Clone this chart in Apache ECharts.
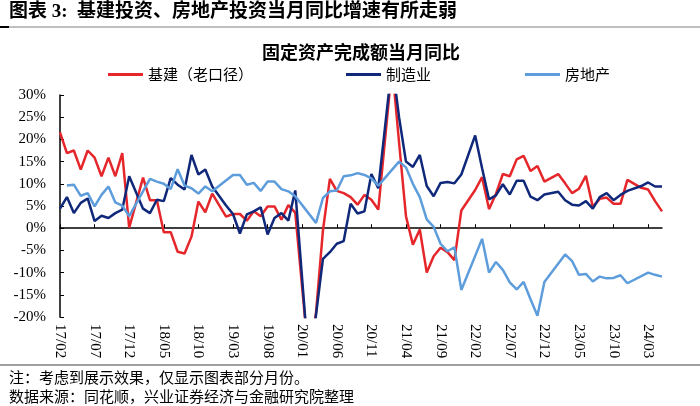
<!DOCTYPE html>
<html>
<head>
<meta charset="utf-8">
<script src="https://cdn.jsdelivr.net/npm/echarts/dist/echarts.min.js"></script>
<style>
  html, body { margin: 0; padding: 0; background: #fff; }
  #main { width: 700px; height: 406px; }
</style>
</head>
<body>
<div id="main"></div>
<script>
// 月份 17/02 - 24/05
var months = [
  '17/02','17/03','17/04','17/05','17/06','17/07','17/08','17/09','17/10','17/11','17/12',
  '18/01','18/02','18/03','18/04','18/05','18/06','18/07','18/08','18/09','18/10','18/11','18/12',
  '19/01','19/02','19/03','19/04','19/05','19/06','19/07','19/08','19/09','19/10','19/11','19/12',
  '20/01','20/02','20/03','20/04','20/05','20/06','20/07','20/08','20/09','20/10','20/11','20/12',
  '21/01','21/02','21/03','21/04','21/05','21/06','21/07','21/08','21/09','21/10','21/11','21/12',
  '22/01','22/02','22/03','22/04','22/05','22/06','22/07','22/08','22/09','22/10','22/11','22/12',
  '23/01','23/02','23/03','23/04','23/05','23/06','23/07','23/08','23/09','23/10','23/11','23/12',
  '24/01','24/02','24/03','24/04','24/05'
];

// 基建（老口径），%
var infra = [
  21.6, 16.9, 17.5, 13.2, 17.5, 15.9, 11.7, 15.9, 11.7, 16.9, 0.1,
  null, 11.4, 6.3, 6.3, -0.9, -0.9, -5.3, -5.7, -1.9, 6.0, 3.6, 7.8,
  null, 2.6, 3.2, 3.2, 1.7, 3.8, 2.7, 4.9, 4.9, 1.9, 5.2, 3.5,
  null, -30.3, -19.0, -0.5, 11.1, 8.4, 7.9, 7.0, 5.3, 7.5, 6.4, 4.2,
  null, 36.6, 19.3, 2.7, -3.7, -0.3, -10.0, -6.3, -4.4, -5.4, -7.2, 4.0,
  null, 8.6, 11.5, 4.3, 7.7, 12.2, 11.7, 15.5, 16.3, 12.9, 14.0, 10.5,
  null, 12.2, 10.1, 7.9, 8.9, 11.8, 4.8, 6.6, 6.9, 5.5, 5.5, 10.9,
  null, 9.1, 8.7, 6.1, 3.8
];

// 制造业，%
var manu = [
  4.4, 7.0, 3.4, 5.7, 6.7, 1.6, 2.8, 2.3, 3.4, 4.2, 11.7,
  null, 4.4, 3.4, 6.4, 6.1, 11.3, 9.8, 8.7, 16.5, 12.1, 13.2, 9.4,
  null, 5.1, 3.2, -1.2, 3.1, 3.8, 4.7, -1.4, 2.3, 3.4, 1.7, 8.5,
  null, -31.5, -19.5, -6.9, -5.4, -3.5, -2.9, 5.5, 3.3, 3.8, 12.2, 9.0,
  null, 37.3, 25.0, 15.0, 13.8, 16.5, 9.5, 7.2, 10.2, 10.4, 10.1, 12.1,
  null, 20.9, 13.5, 6.5, 7.4, 9.9, 7.6, 10.7, 10.7, 7.1, 6.3, 7.6,
  null, 8.2, 6.3, 5.3, 5.1, 6.1, 4.4, 7.0, 7.9, 6.3, 7.5, 8.4,
  null, 9.5, 10.3, 9.4, 9.4
];

// 房地产，%
var estate = [
  null, 9.6, 9.8, 7.3, 7.9, 4.9, 7.5, 9.4, 5.8, 5.1, 2.7,
  null, null, 11.1, 10.5, 10.0, 8.8, 13.3, 9.6, 9.0, 7.8, 9.4, 8.3,
  null, null, 12.0, 12.0, 9.8, 10.2, 8.4, 10.5, 10.5, 8.8, 8.3, 7.2,
  null, null, 1.2, 6.8, 8.3, 8.5, 11.7, 11.9, 12.4, 12.0, 11.2, 9.6,
  null, null, 15.0, 13.7, 10.0, 7.0, 2.0, 0.3, -3.5, -5.2, -4.3, -13.9,
  null, null, -2.4, -10.0, -7.6, -9.4, -12.2, -13.8, -12.1, -16.0, -19.7, -12.1,
  null, null, -5.9, -7.4, -10.5, -10.3, -12.0, -10.9, -11.3, -11.2, -10.6, -12.4,
  null, null, -10.0, -10.5, -10.9
];

var seriesNames = ['基建（老口径）', '制造业', '房地产'];
var colors = ['#E5262B', '#10287A', '#5E9DDB'];

var serif = '"Liberation Serif", "Times New Roman", "Noto Sans CJK SC"';
var cn = '"Noto Sans CJK SC", sans-serif';

var chart = echarts.init(document.getElementById('main'));

function makeLine(name, data, color) {
    return {
        name: name,
        type: 'line',
        data: data,
        xAxisIndex: 0,
        showSymbol: false,
        connectNulls: true,
        lineStyle: { width: 2.5, color: color },
        itemStyle: { color: color }
    }
}

var option = {
    animation: false,
    textStyle: { fontFamily: cn },
    title: {
        text: '固定资产完成额当月同比',
        left: 257,
        top: 38,
        textStyle: { fontSize: 18, fontWeight: 'bold', color: '#000', fontFamily: cn }
    },
    legend: [
        { data: [seriesNames[0]], left: 103, top: 62 },
        { data: [seriesNames[1]], left: 341, top: 62 },
        { data: [seriesNames[2]], left: 520, top: 62 }
    ].map(function (l) {
        l.icon = 'rect';
        l.itemWidth = 35;
        l.itemHeight = 3;
        l.itemGap = 5;
        l.textStyle = { fontSize: 15, color: '#000', fontFamily: cn };
        return l;
    }),
    grid: {
        left: 60,
        right: 38,
        top: 95,
        bottom: 89,
        containLabel: false
    },
    xAxis: [{
        // 只放标签，贴在图底部
        type: 'category',
        data: months,
        boundaryGap: false,
        position: 'bottom',
        axisLine: { show: false, onZero: false },
        axisTick: { show: false },
        axisLabel: {
            interval: 4,
            rotate: -90,
            margin: 7,
            fontSize: 15,
            color: '#000',
            fontFamily: serif
        }
    }, {
        // 0 轴的横线和刻度
        type: 'category',
        data: months,
        boundaryGap: false,
        position: 'bottom',
        axisLine: { onZero: true, lineStyle: { color: '#000', width: 1.5 } },
        axisTick: { inside: true, interval: 4, length: 4, lineStyle: { color: '#000' } },
        axisLabel: { show: false }
    }],
    yAxis: {
        type: 'value',
        min: -20,
        max: 30,
        interval: 5,
        axisLine: { show: true, lineStyle: { color: '#000', width: 1.5 } },
        axisTick: { show: true, inside: true, length: 4, lineStyle: { color: '#000' } },
        splitLine: { show: false },
        axisLabel: {
            formatter: '{value}%',
            fontSize: 15,
            color: '#000',
            margin: 14,
            fontFamily: serif
        }
    },
    series: [
        makeLine(seriesNames[0], infra, colors[0]),
        makeLine(seriesNames[1], manu, colors[1]),
        makeLine(seriesNames[2], estate, colors[2])
    ],
    graphic: [
        {
            type: 'text', left: 9, top: 3,
            style: { text: '图表 3:  基建投资、房地产投资当月同比增速有所走弱', font: 'bold 19px ' + serif, fill: '#000' }
        },
        { type: 'line', shape: { x1: 0, y1: 27, x2: 700, y2: 27 }, style: { stroke: '#808080', lineWidth: 1 } },
        { type: 'rect', shape: { x: 0, y: 26, width: 9, height: 2 }, style: { fill: '#000' } },
        { type: 'line', shape: { x1: 0, y1: 365, x2: 700, y2: 365 }, style: { stroke: '#404040', lineWidth: 1 } },
        {
            type: 'text', left: 9, top: 370,
            style: { text: '注：考虑到展示效果，仅显示图表部分月份。', font: '15px ' + cn, fill: '#000' }
        },
        {
            type: 'text', left: 9, top: 389,
            style: { text: '数据来源：同花顺，兴业证券经济与金融研究院整理', font: '15px ' + cn, fill: '#000' }
        }
    ]
};

chart.setOption(option);
</script>
</body>
</html>
